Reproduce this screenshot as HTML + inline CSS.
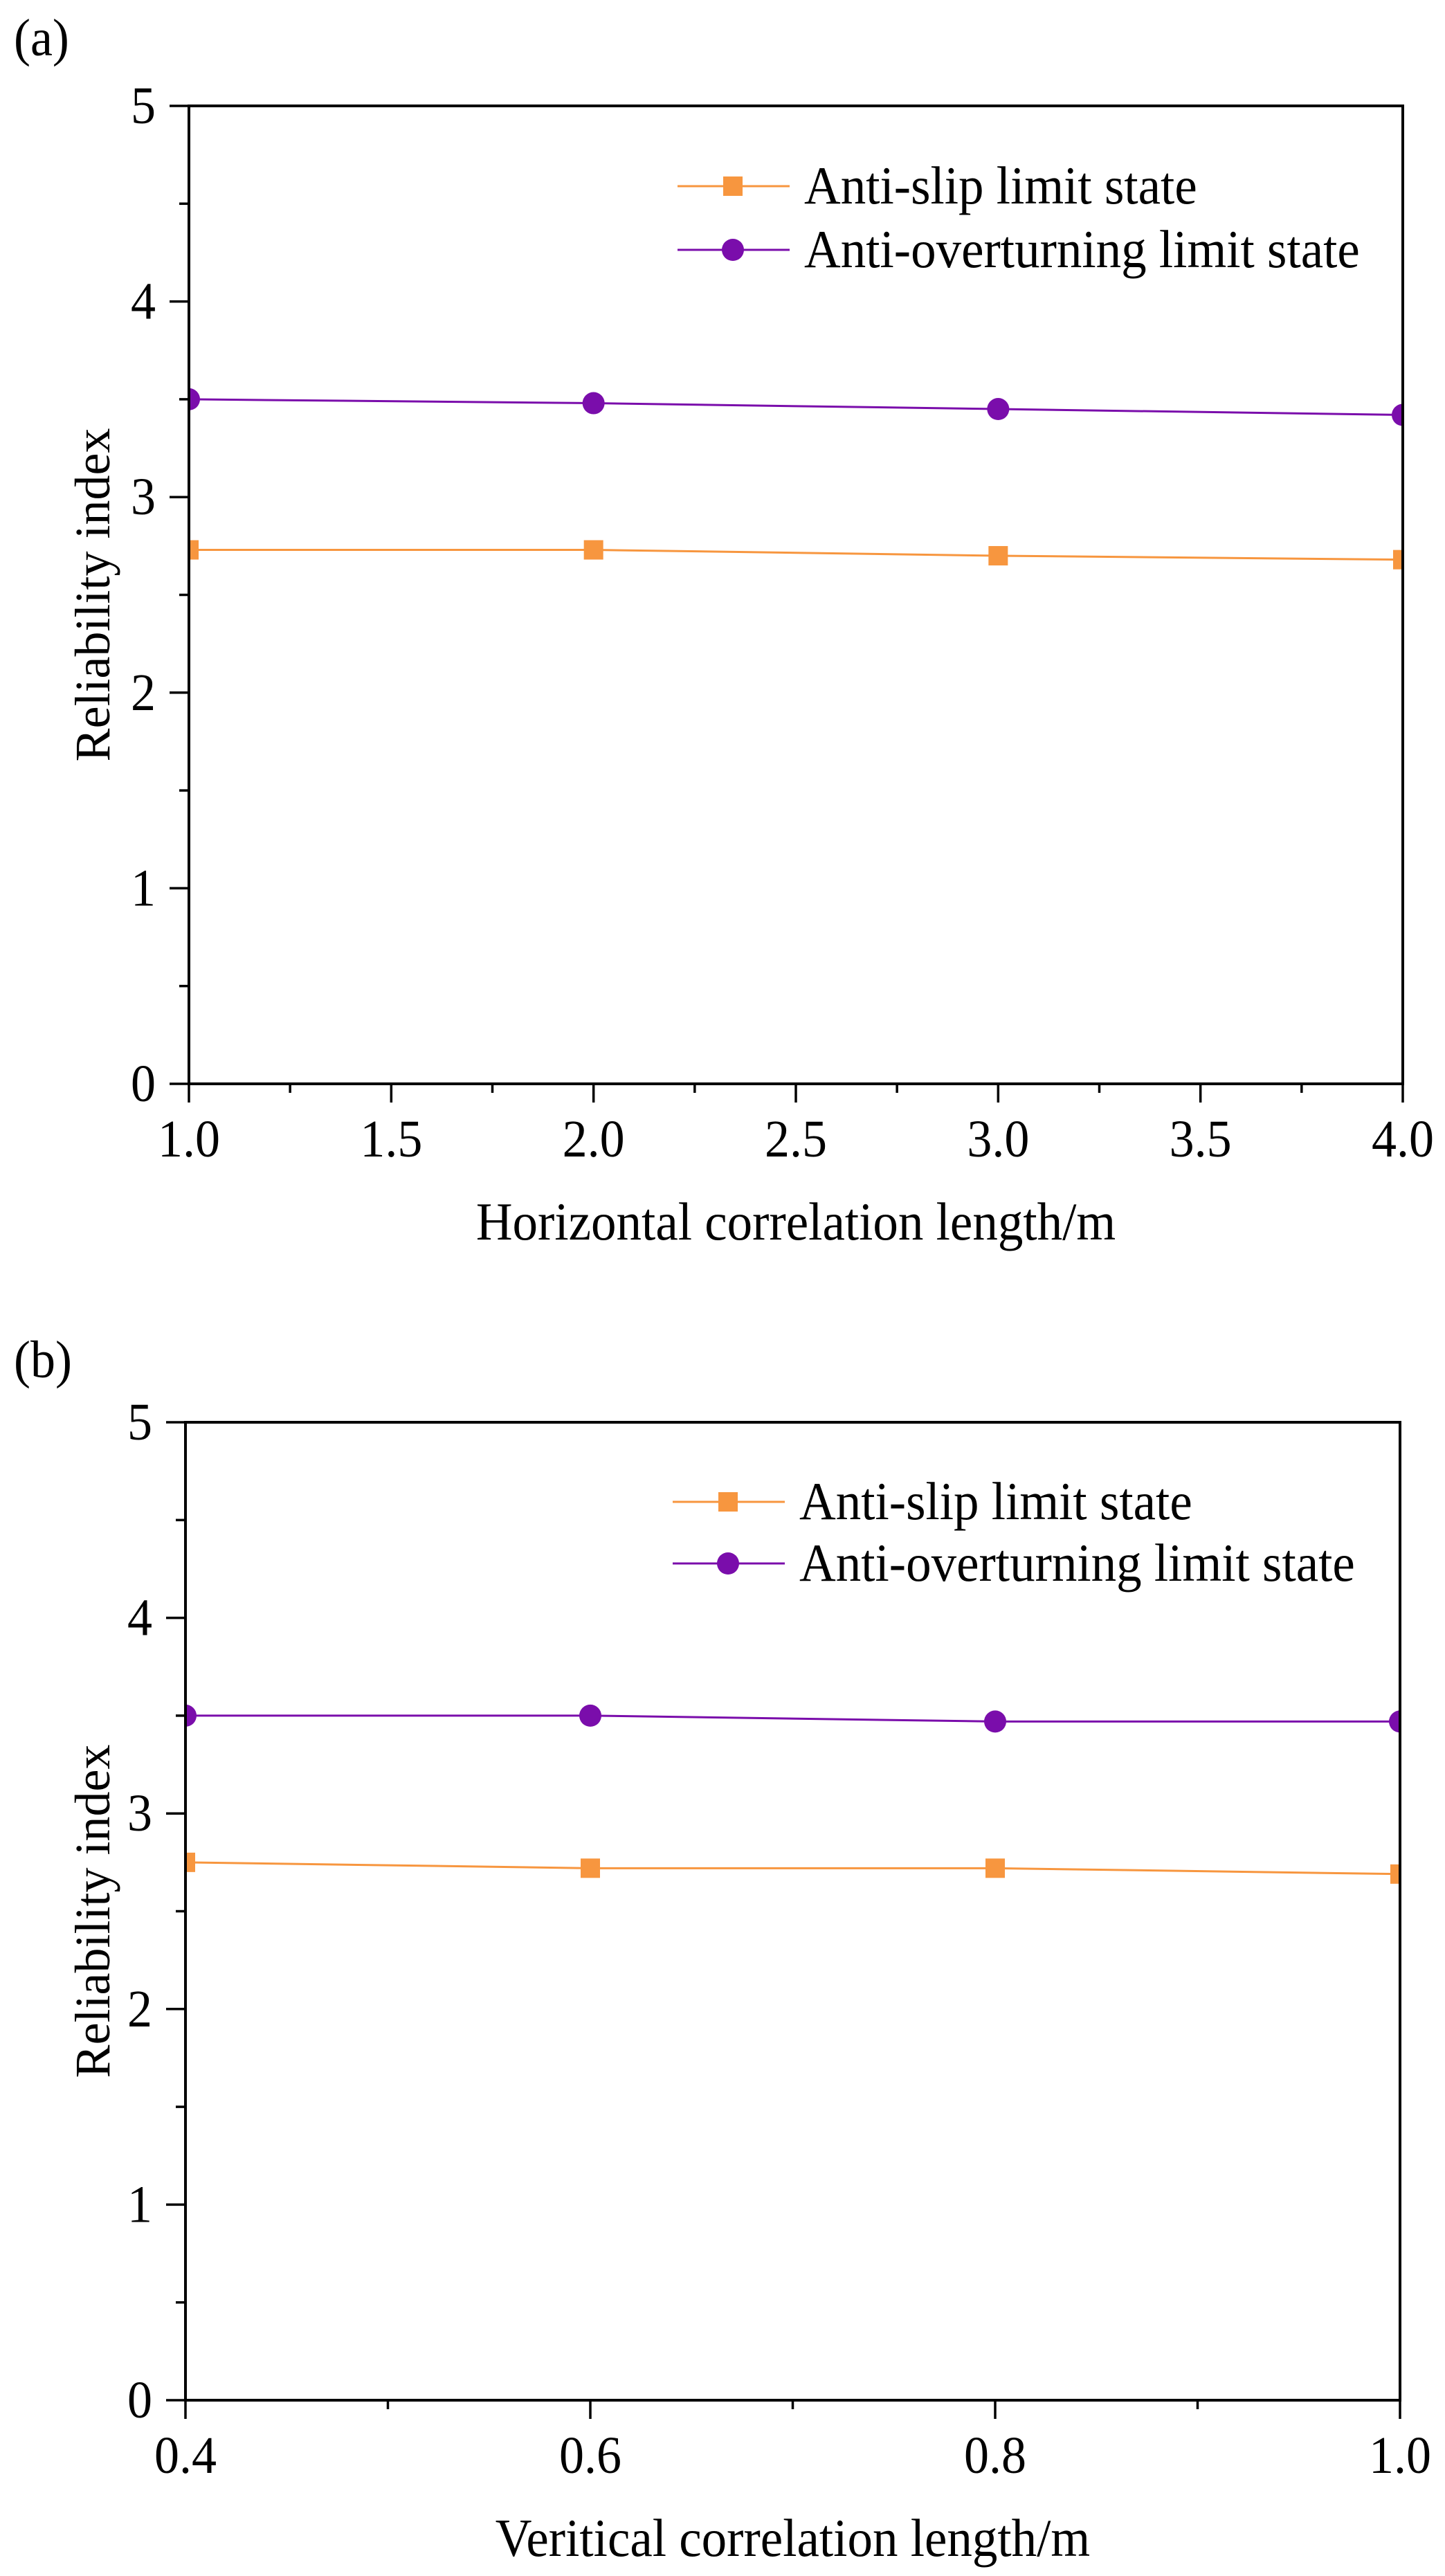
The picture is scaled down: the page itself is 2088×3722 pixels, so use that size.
<!DOCTYPE html>
<html><head><meta charset="utf-8"><style>
html,body{margin:0;padding:0;background:#fff;}
svg{display:block;font-family:"Liberation Serif",serif;}
</style></head><body>
<svg id="fig" width="2088" height="3722" viewBox="0 0 2088 3722" xmlns="http://www.w3.org/2000/svg"></svg>
<script>
const xCatsA = [1.0, 2.0, 3.0, 4.0];
const slipA = [2.73, 2.73, 2.70, 2.68];
const overA = [3.50, 3.48, 3.45, 3.42];
const xTicksA = ["1.0","1.5","2.0","2.5","3.0","3.5","4.0"];
const xTickValsA = [1.0,1.5,2.0,2.5,3.0,3.5,4.0];

const xCatsB = [0.4, 0.6, 0.8, 1.0];
const slipB = [2.75, 2.72, 2.72, 2.69];
const overB = [3.50, 3.50, 3.47, 3.47];
const xTicksB = ["0.4","0.6","0.8","1.0"];
const xTickValsB = [0.4,0.6,0.8,1.0];

const yTicks = ["0","1","2","3","4","5"];
const yTickVals = [0,1,2,3,4,5];

const NS = "http://www.w3.org/2000/svg";
const svg = document.getElementById('fig');
function mk(tag, attrs, parent){
  const e = document.createElementNS(NS, tag);
  for (const k in attrs) e.setAttribute(k, attrs[k]);
  (parent||svg).appendChild(e);
  return e;
}
const SY = 1.06;
function txt(parent, x, y, str, size, anchor){
  const t = mk('text', {x: 0, y: 0, 'font-size': size, 'text-anchor': anchor || 'start',
    transform: 'translate(' + x + ',' + y + ') scale(1,' + SY + ')'}, parent);
  t.textContent = str;
  return t;
}
const ORANGE = "#F7963F", PURPLE = "#7A0DAB";

function chart(id, P, xmin, xmax, xCats, slip, over, xTicks, xTickVals, xMinorStep, title, panel, panelY, legY, legX){
  const g = mk('g', {});
  
  
  const sx = v => P.l + (v - xmin) / (xmax - xmin) * (P.r - P.l);
  const sy = v => P.b - v / 5 * (P.b - P.t);

  const pl = txt(g, 20, panelY, panel, 72);
  
  

  const cp = mk('clipPath', {id: 'clip' + id}, g);
  mk('rect', {x: P.l, y: P.t, width: P.r - P.l, height: P.b - P.t}, cp);

  yTickVals.forEach((v, i) => {
    const y = sy(v);
    const t = mk('line', {x1: P.l - 28, x2: P.l, y1: y, y2: y, stroke: '#000', 'stroke-width': 3.5}, g);
    
    
    const lb = txt(g, P.l - 48, y + 25, yTicks[i], 72, 'end');
    
    
    if (v < 5) {
      const ym = sy(v + 0.5);
      const m = mk('line', {x1: P.l - 14, x2: P.l, y1: ym, y2: ym, stroke: '#000', 'stroke-width': 3.5}, g);
      
      
    }
  });
  xTickVals.forEach((v, i) => {
    const x = sx(v);
    const t = mk('line', {x1: x, x2: x, y1: P.b, y2: P.b + 27, stroke: '#000', 'stroke-width': 3.5}, g);
    
    
    const lb = txt(g, x, P.b + 105, xTicks[i], 72, 'middle');
    
    
    if (i < xTickVals.length - 1) {
      const xm = sx(xMinorStep ? v + xMinorStep : (v + xTickVals[i+1]) / 2);
      const m = mk('line', {x1: xm, x2: xm, y1: P.b, y2: P.b + 13, stroke: '#000', 'stroke-width': 3.5}, g);
      
      
    }
  });

  const sg = mk('g', {'clip-path': 'url(#clip' + id + ')'}, g);
  const ptsS = xCats.map((x, i) => sx(x) + ',' + sy(slip[i])).join(' ');
  const ptsO = xCats.map((x, i) => sx(x) + ',' + sy(over[i])).join(' ');
  const ls = mk('polyline', {points: ptsS, fill: 'none', stroke: ORANGE, 'stroke-width': 3}, sg);
  
  
  const lo = mk('polyline', {points: ptsO, fill: 'none', stroke: PURPLE, 'stroke-width': 3}, sg);
  
  
  xCats.forEach((x, i) => {
    const r = mk('rect', {x: sx(x) - 14, y: sy(slip[i]) - 14, width: 28, height: 28, fill: ORANGE}, sg);
    
    
    const c = mk('circle', {cx: sx(x), cy: sy(over[i]), r: 16, fill: PURPLE}, sg);
    
    
  });

  const fr = mk('rect', {x: P.l, y: P.t, width: P.r - P.l, height: P.b - P.t, fill: 'none', stroke: '#000', 'stroke-width': 4}, g);
  
  

  const lg = mk('g', {}, g);
  
  
  const e1 = mk('g', {}, lg);
  
  
  mk('line', {x1: legX, x2: legX + 162, y1: legY[0], y2: legY[0], stroke: ORANGE, 'stroke-width': 3}, e1);
  mk('rect', {x: legX + 80 - 14, y: legY[0] - 14, width: 28, height: 28, fill: ORANGE}, e1);
  txt(e1, legX + 183, legY[0] + 25, 'Anti-slip limit state', 73);
  const e2 = mk('g', {}, lg);
  
  
  mk('line', {x1: legX, x2: legX + 162, y1: legY[1], y2: legY[1], stroke: PURPLE, 'stroke-width': 3}, e2);
  mk('circle', {cx: legX + 80, cy: legY[1], r: 16, fill: PURPLE}, e2);
  txt(e2, legX + 183, legY[1] + 25, 'Anti-overturning limit state', 73);

  const xt = txt(g, (P.l + P.r) / 2, P.b + 225, title, 73, 'middle');
  
  
  const cy = (P.t + P.b) / 2;
  const yt = mk('text', {x: 0, y: 0, 'font-size': 72, 'text-anchor': 'middle', transform: 'translate(158,' + cy + ') rotate(-90)'}, g);
  yt.textContent = 'Reliability index';
  
  
}

chart('a', {l: 273, r: 2027, t: 153, b: 1566}, 1.0, 4.0, xCatsA, slipA, overA, xTicksA, xTickValsA, 0.25,
  'Horizontal correlation length/m', '(a)', 80, [269, 361], 979);
chart('b', {l: 268, r: 2023, t: 2055, b: 3468}, 0.4, 1.0, xCatsB, slipB, overB, xTicksB, xTickValsB, 0,
  'Veritical correlation length/m', '(b)', 1990, [2170, 2259], 972);
</script>
</body></html>
